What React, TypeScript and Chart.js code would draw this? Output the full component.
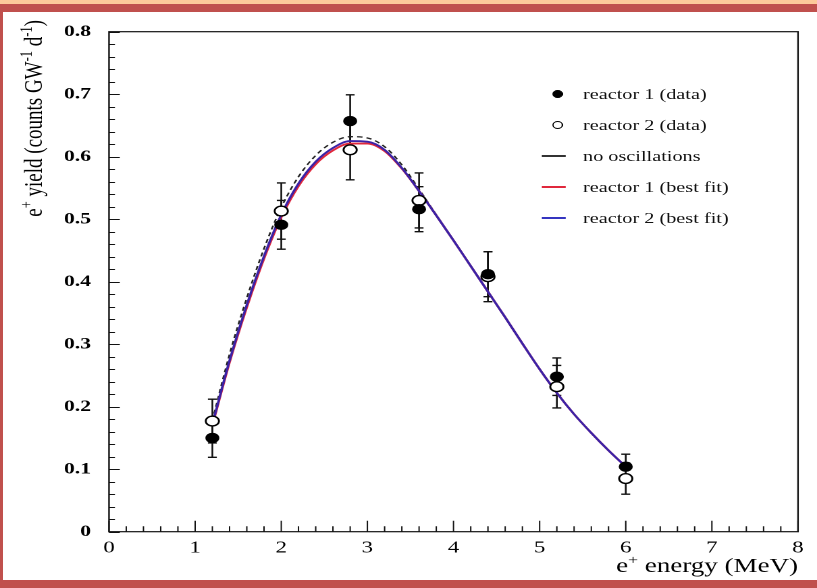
import React, { useEffect, useRef } from 'react';
import { Chart, registerables } from 'chart.js';

Chart.register(...registerables);

// ---------- data ----------
const ENERGY = [1.2, 2.0, 2.8, 3.6, 4.4, 5.2, 6.0];
const REACTOR1 = [0.150, 0.491, 0.657, 0.516, 0.412, 0.248, 0.104];
const REACTOR1_ERR = [0.031, 0.039, 0.042, 0.036, 0.036, 0.030, 0.020];
const REACTOR2 = [0.177, 0.513, 0.611, 0.530, 0.408, 0.232, 0.085];
const REACTOR2_ERR = [0.035, 0.045, 0.048, 0.044, 0.040, 0.034, 0.025];

const CURVE_E = [1.2, 1.4, 1.6, 1.8, 2.0, 2.2, 2.4, 2.6, 2.8, 3.0, 3.2, 3.4, 3.6, 3.8, 4.0, 4.2, 4.4, 4.6, 4.8, 5.0, 5.2, 5.4, 5.6, 5.8, 6.0];
const NO_OSC = [0.178, 0.284, 0.374, 0.453, 0.519, 0.568, 0.602, 0.623, 0.632, 0.630, 0.616, 0.587, 0.548, 0.507, 0.466, 0.425, 0.384, 0.343, 0.301, 0.260, 0.222, 0.188, 0.158, 0.130, 0.104];
const FIT1 = [0.170, 0.271, 0.359, 0.437, 0.503, 0.553, 0.588, 0.610, 0.621, 0.621, 0.609, 0.581, 0.545, 0.506, 0.466, 0.425, 0.384, 0.343, 0.301, 0.260, 0.222, 0.188, 0.158, 0.130, 0.104];
const FIT2 = [0.172, 0.274, 0.363, 0.441, 0.507, 0.557, 0.592, 0.614, 0.625, 0.624, 0.611, 0.582, 0.545, 0.506, 0.466, 0.425, 0.384, 0.343, 0.301, 0.260, 0.222, 0.188, 0.158, 0.130, 0.104];

const X_TICKS = [0, 1, 2, 3, 4, 5, 6, 7, 8];
const X_TICK_LABELS = ['0', '1', '2', '3', '4', '5', '6', '7', '8'];
const Y_TICKS = [0, 0.1, 0.2, 0.3, 0.4, 0.5, 0.6, 0.7, 0.8];
const Y_TICK_LABELS = ['0', '0.1', '0.2', '0.3', '0.4', '0.5', '0.6', '0.7', '0.8'];
const X_MINOR_STEP = 0.2;
const Y_MINOR_STEP = 0.02;

const X_TITLE = [{ t: 'e', sup: false }, { t: '+', sup: true }, { t: ' energy (MeV)', sup: false }];
const Y_TITLE = [
  { t: 'e', sup: false }, { t: '+', sup: true }, { t: ' yield (counts GW', sup: false },
  { t: '-1', sup: true }, { t: ' d', sup: false }, { t: '-1', sup: true }, { t: ')', sup: false },
];

const LEGEND = [
  { label: 'reactor 1 (data)', kind: 'filled' },
  { label: 'reactor 2 (data)', kind: 'open' },
  { label: 'no oscillations', kind: 'black' },
  { label: 'reactor 1 (best fit)', kind: 'red' },
  { label: 'reactor 2 (best fit)', kind: 'blue' },
];

// ---------- layout (the picture is horizontally stretched) ----------
const W = 817;
const H = 588;
const IW = 605;
const S = W / IW;
const PLOT_L = 109 / S;
const PLOT_R = 798 / S;
const PLOT_T = 31.7;
const PLOT_B = 531.7;

const FONT = "'Liberation Serif', 'Times New Roman', serif";

const COL_BLUE = '#3b22a6';
const COL_RED = '#e0283c';

export default function App() {
  const ref = useRef<HTMLCanvasElement>(null);

  useEffect(() => {
    const canvas = ref.current!;

    const errorBars = {
      id: 'errorBars',
      beforeDatasetsDraw(chart: any) {
        const { ctx } = chart;
        const xs = chart.scales.x;
        const ys = chart.scales.y;
        ctx.save();
        ctx.strokeStyle = '#111';
        ctx.lineWidth = 1.3;
        const draw = (vals: number[], errs: number[]) => {
          ENERGY.forEach((e, i) => {
            const px = xs.getPixelForValue(e);
            const top = ys.getPixelForValue(vals[i] + errs[i]);
            const bot = ys.getPixelForValue(vals[i] - errs[i]);
            ctx.beginPath();
            ctx.moveTo(px, top);
            ctx.lineTo(px, bot);
            ctx.moveTo(px - 3.3, top);
            ctx.lineTo(px + 3.3, top);
            ctx.moveTo(px - 3.3, bot);
            ctx.lineTo(px + 3.3, bot);
            ctx.stroke();
          });
        };
        draw(REACTOR1, REACTOR1_ERR);
        draw(REACTOR2, REACTOR2_ERR);
        ctx.restore();
      },
    };

    const drawRich = (ctx: any, segs: any[], xEnd: number, y: number, main: string, sup: string, rise: number) => {
      let total = 0;
      const widths = segs.map((s) => {
        ctx.font = s.sup ? sup : main;
        const w = ctx.measureText(s.t).width;
        total += w;
        return w;
      });
      let x = xEnd - total;
      segs.forEach((s, i) => {
        ctx.font = s.sup ? sup : main;
        ctx.fillText(s.t, x, y + (s.sup ? -rise : 0));
        x += widths[i];
      });
    };

    const frame = {
      id: 'frame',
      afterDraw(chart: any) {
        const { ctx, chartArea: a } = chart;
        const xs = chart.scales.x;
        const ys = chart.scales.y;
        ctx.save();
        ctx.strokeStyle = '#111';
        ctx.lineWidth = 1;
        ctx.beginPath();
        // y ticks (inward)
        const nY = Math.round((ys.max - ys.min) / Y_MINOR_STEP);
        for (let i = 0; i <= nY; i++) {
          const v = ys.min + i * Y_MINOR_STEP;
          const py = Math.round(ys.getPixelForValue(v)) + 0.5;
          const len = i % 5 === 0 ? 8 : 4.4;
          ctx.moveTo(a.left, py);
          ctx.lineTo(a.left + len, py);
        }
        // x ticks (inward)
        const nX = Math.round((xs.max - xs.min) / X_MINOR_STEP);
        for (let i = 0; i <= nX; i++) {
          const v = xs.min + i * X_MINOR_STEP;
          const px = xs.getPixelForValue(v);
          const len = i % 5 === 0 ? 11 : 5.5;
          ctx.moveTo(px, a.bottom);
          ctx.lineTo(px, a.bottom - len);
        }
        ctx.stroke();
        ctx.lineWidth = 1.2;
        ctx.strokeRect(a.left, a.top, a.right - a.left, a.bottom - a.top);

        // titles
        ctx.fillStyle = '#000';
        ctx.textBaseline = 'alphabetic';
        ctx.textAlign = 'left';
        drawRich(ctx, X_TITLE, a.right, 572, `20px ${FONT}`, `13px ${FONT}`, 8);
        ctx.translate(31, 20);
        ctx.rotate(-Math.PI / 2);
        drawRich(ctx, Y_TITLE, 0, 0, `19px ${FONT}`, `12.5px ${FONT}`, 7.5);
        ctx.restore();
      },
    };

    const curve = (vals: number[]) => CURVE_E.map((e, i) => ({ x: e, y: vals[i] }));

    const chart = new Chart(canvas, {
      type: 'line',
      data: {
        datasets: [
          {
            label: 'reactor 1 (data)',
            data: ENERGY.map((e, i) => ({ x: e, y: REACTOR1[i] })),
            showLine: false,
            pointRadius: 4.7,
            pointBackgroundColor: '#000',
            pointBorderColor: '#000',
            pointBorderWidth: 1,
            order: 0,
          },
          {
            label: 'reactor 2 (data)',
            data: ENERGY.map((e, i) => ({ x: e, y: REACTOR2[i] })),
            showLine: false,
            pointRadius: 4.9,
            pointBackgroundColor: '#fff',
            pointBorderColor: '#000',
            pointBorderWidth: 1.4,
            order: 1,
          },
          {
            label: 'reactor 2 (best fit)',
            data: curve(FIT2),
            borderColor: COL_BLUE,
            borderWidth: 1.8,
            pointRadius: 0,
            cubicInterpolationMode: 'monotone',
            order: 2,
          },
          {
            label: 'reactor 1 (best fit)',
            data: curve(FIT1),
            borderColor: COL_RED,
            borderWidth: 1.8,
            pointRadius: 0,
            cubicInterpolationMode: 'monotone',
            order: 3,
          },
          {
            label: 'no oscillations',
            data: curve(NO_OSC),
            borderColor: '#222',
            borderWidth: 1.3,
            borderDash: [4, 3],
            pointRadius: 0,
            cubicInterpolationMode: 'monotone',
            order: 4,
          },
        ],
      },
      options: {
        animation: false,
        responsive: true,
        maintainAspectRatio: false,
        devicePixelRatio: 2,
        layout: { padding: { left: 0, right: IW - PLOT_R, top: PLOT_T, bottom: 0 } },
        plugins: { legend: { display: false }, tooltip: { enabled: false } },
        scales: {
          x: {
            type: 'linear',
            min: 0,
            max: 8,
            afterFit(s: any) { s.height = H - PLOT_B; },
            afterBuildTicks(s: any) { s.ticks = X_TICKS.map((v) => ({ value: v })); },
            ticks: {
              callback: (_v: any, i: number) => X_TICK_LABELS[i],
              padding: 6,
              color: '#000',
              maxRotation: 0,
              autoSkip: false,
              font: { family: FONT, size: 17 },
            },
            grid: { display: false, drawTicks: false },
            border: { display: false },
          },
          y: {
            type: 'linear',
            min: 0,
            max: 0.8,
            afterFit(s: any) { s.width = PLOT_L; },
            afterBuildTicks(s: any) { s.ticks = Y_TICKS.map((v) => ({ value: v })); },
            ticks: {
              callback: (_v: any, i: number) => Y_TICK_LABELS[i],
              padding: 13.3,
              color: '#000',
              autoSkip: false,
              font: { family: FONT, size: 16, weight: 'bold' },
            },
            grid: { display: false, drawTicks: false },
            border: { display: false },
          },
        },
      },
      plugins: [errorBars, frame],
    });
    return () => chart.destroy();
  }, []);

  const rowY = [94, 125, 156, 187, 218];
  const symX = 558 / S;
  const lineL = 541 / S;
  const lineR = 566 / S;
  const textL = 583 / S;

  return (
    <div style={{ position: 'fixed', left: 0, top: 0, width: W, height: H, background: '#fff', overflow: 'hidden' }}>
      <div style={{ position: 'absolute', left: 0, top: 0, width: IW, height: H, transform: `scaleX(${S})`, transformOrigin: '0 0' }}>
        <canvas ref={ref} style={{ display: 'block' }} />
        {LEGEND.map((item, i) => {
          const cy = rowY[i];
          let sym: any = null;
          if (item.kind === 'filled' || item.kind === 'open') {
            const r = 4.2;
            sym = (
              <div style={{
                position: 'absolute', left: symX - r, top: cy - r, width: 2 * r, height: 2 * r, borderRadius: '50%',
                boxSizing: 'border-box',
                background: item.kind === 'filled' ? '#000' : '#fff',
                border: '1.3px solid #000',
              }} />
            );
          } else {
            const c = item.kind === 'black' ? '#333' : item.kind === 'red' ? COL_RED : '#3535c0';
            sym = <div style={{ position: 'absolute', left: lineL, top: cy - 0.75, width: lineR - lineL, height: 1.5, background: c }} />;
          }
          return (
            <React.Fragment key={item.label}>
              {sym}
              <div style={{
                position: 'absolute', left: textL, top: cy - 10, height: 20, lineHeight: '20px',
                fontFamily: FONT, fontSize: 15, color: '#111', whiteSpace: 'nowrap',
              }}>{item.label}</div>
            </React.Fragment>
          );
        })}
      </div>
      <div style={{ position: 'absolute', left: 0, top: 0, width: W, height: 4, background: '#fdc99a' }} />
      <div style={{ position: 'absolute', left: 0, top: 4, width: W, height: 8, background: '#c0504d' }} />
      <div style={{ position: 'absolute', left: 0, top: 12, width: 3, height: H - 12, background: '#c0504d' }} />
      <div style={{ position: 'absolute', left: 0, top: 580, width: W, height: 8, background: '#c0504d' }} />
    </div>
  );
}
